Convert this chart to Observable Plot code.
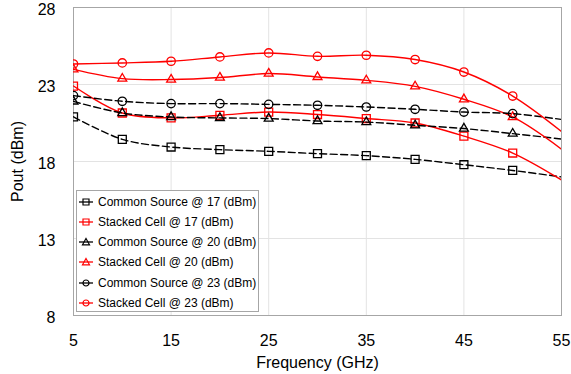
<!DOCTYPE html>
<html><head><meta charset="utf-8">
<script src="https://cdn.jsdelivr.net/npm/d3@7"></script>
<script src="https://cdn.jsdelivr.net/npm/@observablehq/plot@0.6"></script>
<style>
body{margin:0;background:#fff;font-family:Arial,"Liberation Sans",sans-serif}
#chart{position:relative;width:571px;height:374px}
#legend{position:absolute;left:76px;top:190px;width:181px;height:120px;border:1px solid #a6a6a6;background:#fff;font-size:12px;color:#000}
#legend .row{position:absolute;left:0;height:20px;display:flex;align-items:center}
#legend svg{display:block;margin-left:2px;margin-right:5px}
</style>
</head><body><div id="chart"><div id="legend"></div></div>
<script>
// Frequency (GHz); markers at 5..50, smooth lines run to 55
const freq = [5, 10, 15, 20, 25, 30, 35, 40, 45, 50, 55];
const csAt17 = [20.9, 19.44, 18.94, 18.77, 18.66, 18.51, 18.38, 18.14, 17.79, 17.42, 17.0];
const scAt17 = [22.9, 21.15, 20.83, 21.0, 21.21, 21.05, 20.79, 20.5, 19.65, 18.55, 16.8];
const csAt20 = [21.9, 21.15, 20.89, 20.83, 20.79, 20.63, 20.56, 20.35, 20.14, 19.81, 19.46];
const scAt20 = [23.98, 23.38, 23.32, 23.45, 23.71, 23.49, 23.27, 22.88, 22.04, 20.89, 18.8];
const csAt23 = [22.28, 21.91, 21.76, 21.76, 21.71, 21.65, 21.54, 21.39, 21.21, 21.11, 20.73];
const scAt23 = [24.33, 24.4, 24.51, 24.79, 25.05, 24.83, 24.9, 24.62, 23.81, 22.25, 19.95];
const seriesNames = ["Common Source @ 17 (dBm)", "Stacked Cell @ 17 (dBm)", "Common Source @ 20 (dBm)", "Stacked Cell @ 20 (dBm)", "Common Source @ 23 (dBm)", "Stacked Cell @ 23 (dBm)"];
const xTicks = [5, 15, 25, 35, 45, 55];
const yTicks = [8, 13, 18, 23, 28];

const seriesValues = [csAt17, scAt17, csAt20, scAt20, csAt23, scAt23];
const styles = [
  {color: "#000", symbol: "square", dash: "7,3.5"},
  {color: "#ff0000", symbol: "square", dash: null},
  {color: "#000", symbol: "triangle", dash: "7,3.5"},
  {color: "#ff0000", symbol: "triangle", dash: null},
  {color: "#000", symbol: "circle", dash: "7,3.5"},
  {color: "#ff0000", symbol: "circle", dash: null}
];
const symbolR = {square: 4.5, triangle: 3.3, circle: 4.2};

const marks = [
  Plot.ruleX(xTicks.slice(1, -1), {stroke: "#e3e3e3", strokeWidth: 1}),
  Plot.ruleY(yTicks.slice(1, -1), {stroke: "#e3e3e3", strokeWidth: 1}),
  Plot.frame({stroke: "#a6a6a6", strokeWidth: 1})
];
seriesValues.forEach((vals, i) => {
  const rows = freq.map((f, j) => ({f, v: vals[j]}));
  const st = styles[i];
  marks.push(Plot.line(rows, {x: "f", y: "v", curve: "catmull-rom", stroke: st.color, strokeWidth: 1.4,
    strokeDasharray: st.dash || undefined, clip: "frame"}));
  marks.push(Plot.dot(rows.filter(d => d.f <= 50), {x: "f", y: "v", symbol: st.symbol,
    r: symbolR[st.symbol], stroke: st.color, fill: "none", strokeWidth: 1.3, clip: "frame"}));
});
marks.push(
  Plot.axisX(xTicks, {tickSize: 0, tickPadding: 19, fontSize: 16, label: null}),
  Plot.axisY(yTicks, {tickSize: 0, tickPadding: 18, fontSize: 16, label: null, dy: 2}),
  Plot.text(["Frequency (GHz)"], {frameAnchor: "bottom", dy: 52, fontSize: 16, fill: "#000"}),
  Plot.text(["Pout (dBm)"], {frameAnchor: "left", textAnchor: "middle", rotate: -90, dx: -56, fontSize: 16, fill: "#000"})
);

const chart = Plot.plot({
  width: 571, height: 374,
  marginLeft: 73, marginRight: 10, marginTop: 7, marginBottom: 59,
  x: {domain: [5, 55]},
  y: {domain: [8, 28]},
  style: {fontFamily: "Arial, 'Liberation Sans', sans-serif", color: "#000", background: "#fff"},
  marks
});
document.getElementById("chart").prepend(chart);

// legend
const legend = document.getElementById("legend");
const symPath = {
  square: "M-3,-3h6v6h-6z",
  triangle: "M0,-3.5L3.5,2.8L-3.5,2.8z",
  circle: "M3,0A3,3 0 1 1 -3,0A3,3 0 1 1 3,0"
};
seriesNames.forEach((name, i) => {
  const st = styles[i];
  const row = document.createElement("div");
  row.className = "row";
  row.style.top = (0.5 + i * 20.3) + "px";
  row.innerHTML = `<svg width="14" height="12" viewBox="-7 -6 14 12"><line x1="-7" x2="7" y1="0" y2="0" stroke="${st.color}" stroke-width="1.3"/><path d="${symPath[st.symbol]}" fill="none" stroke="${st.color}" stroke-width="1.2"/></svg><span>${name}</span>`;
  legend.appendChild(row);
});
</script>
</body></html>
